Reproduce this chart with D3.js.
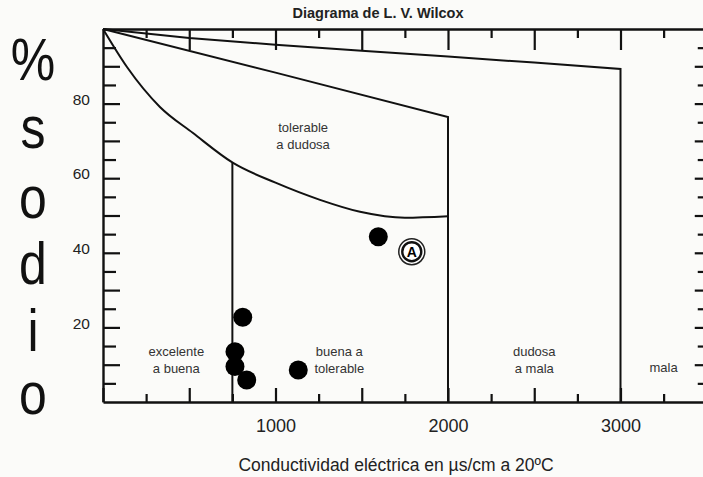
<!DOCTYPE html>
<html>
<head>
<meta charset="utf-8">
<script src="https://cdn.jsdelivr.net/npm/d3@7"></script>
<style>
  html, body { margin: 0; padding: 0; background: #fbfbf9; }
  svg { display: block; }
  text { font-family: "Liberation Sans", Arial, sans-serif; }
</style>
</head>
<body>
<svg id="chart" width="703" height="477"></svg>
<script>
// ---------------- data ----------------
const title = "Diagrama de L. V. Wilcox";
const xTitle = "Conductividad eléctrica en µs/cm a 20ºC";
const yTitleLetters = ["%", "s", "o", "d", "i", "o"];

const xTickLabels = [1000, 2000, 3000];
const yTickLabels = [20, 40, 60, 80];

// boundary 1: "dudosa a mala" / "mala"
const b1Cond = [0, 500, 1000, 1500, 2000, 2500, 3000, 3000];
const b1Na   = [100, 97.6, 95.8, 94.2, 92.6, 91, 89.3, 0];
// boundary 2: "buena a tolerable" / "dudosa a mala"
const b2Cond = [0, 1000, 2000, 2000];
const b2Na   = [100, 88.3, 76.4, 0];
// boundary 3: lower curve ("tolerable a dudosa")
const b3Cond = [0, 139, 330, 522, 754, 1000, 1258, 1490, 1750, 2000];
const b3Na   = [100, 89.8, 79.1, 72.1, 64.1, 58.8, 54.2, 51, 49.4, 49.8];
// boundary 4: vertical at 750
const b4Cond = [750, 750];
const b4Na   = [64.1, 0];

// water samples
const sampleCond = [1596, 810, 765, 765, 833, 1132];
const sampleNa   = [44.3, 22.7, 13.5, 9.5, 5.9, 8.6];
// highlighted sample "A"
const markCond = [1790];
const markNa   = [40.3];
const markText = ["A"];

// zone labels (lines) and their anchors in data units
const zoneLabels = [["tolerable", "a dudosa"], ["excelente", "a buena"], ["buena a", "tolerable"], ["dudosa", "a mala"], ["mala"]];
const zoneCond   = [1160, 425, 1370, 2500, 3250];
const zoneNa     = [72.5, 12.4, 12.4, 12.4, 8];

// ---------------- drawing ----------------
const svg = d3.select("#chart");
const x = d3.scaleLinear().domain([0, 3500]).range([103, 706.75]);
const y = d3.scaleLinear().domain([0, 100]).range([402, 29]);
const ink = "#111";

// axes
const minorX = d3.range(0, 3501, 250);
const minorY = d3.range(5, 100, 5);

const gBottom = svg.append("g").attr("transform", `translate(0,${y(0)})`)
  .call(d3.axisBottom(x).tickValues(minorX).tickSizeOuter(0)
    .tickFormat(d => xTickLabels.includes(d) ? d : ""));
gBottom.selectAll(".tick line").attr("y2", d => d % 500 === 0 ? -14 : -8);
gBottom.selectAll(".tick text").attr("y", 17).attr("dy", "0.71em").attr("font-size", 18);

const gLeft = svg.append("g").attr("transform", `translate(${x(0)},0)`)
  .call(d3.axisLeft(y).tickValues(minorY).tickSizeOuter(0)
    .tickFormat(d => yTickLabels.includes(d) ? d : ""));
gLeft.selectAll(".tick line").attr("x2", d => d % 10 === 0 ? 17 : 13);
gLeft.selectAll(".tick text").attr("x", -13).attr("dy", "0.05em").attr("font-size", 15.5);

const gTop = svg.append("g").attr("transform", `translate(0,${y(100)})`)
  .call(d3.axisTop(x).tickValues(minorX.filter(d => d > 0)).tickSizeOuter(0).tickFormat(""));
gTop.selectAll(".tick line").attr("y2", d => d % 500 === 0 ? 21 : 9);

const gRight = svg.append("g").attr("transform", `translate(${x(3500)},0)`)
  .call(d3.axisRight(y).tickValues(minorY).tickSizeOuter(0).tickFormat(""));
gRight.selectAll(".tick line").attr("x2", d => d % 10 === 0 ? -12 : -9);

[gBottom, gLeft, gTop, gRight].forEach(g => {
  g.select(".domain").attr("stroke", ink).attr("stroke-width", 2.4);
  g.selectAll(".tick line").attr("stroke", ink).attr("stroke-width", 2.2);
  g.selectAll(".tick text").attr("fill", "#222")
    .attr("font-family", "Liberation Sans, Arial, sans-serif");
});

// boundaries
const lineGen = d3.line().x(d => x(d[0])).y(d => y(d[1]));
const curveGen = d3.line().x(d => x(d[0])).y(d => y(d[1])).curve(d3.curveMonotoneX);
const zip = (a, b) => a.map((v, i) => [v, b[i]]);

const gB = svg.append("g").attr("fill", "none").attr("stroke", ink).attr("stroke-width", 2);
gB.append("path").attr("d", lineGen(zip(b1Cond, b1Na)));
gB.append("path").attr("d", lineGen(zip(b2Cond, b2Na)));
gB.append("path").attr("d", curveGen(zip(b3Cond, b3Na)));
gB.append("path").attr("d", lineGen(zip(b4Cond, b4Na)));

// zone labels
zoneLabels.forEach((lines, i) => {
  const t = svg.append("text")
    .attr("x", x(zoneCond[i])).attr("y", y(zoneNa[i]))
    .attr("text-anchor", "middle").attr("font-size", 13).attr("fill", "#333");
  lines.forEach((ln, j) => {
    t.append("tspan").attr("x", x(zoneCond[i])).attr("dy", j === 0 ? 0 : 17).text(ln);
  });
});

// samples
svg.append("g").selectAll("circle").data(zip(sampleCond, sampleNa)).join("circle")
  .attr("cx", d => x(d[0])).attr("cy", d => y(d[1])).attr("r", 9.5).attr("fill", "#000");

const gm = svg.append("g").selectAll("g").data(zip(markCond, markNa)).join("g")
  .attr("transform", d => `translate(${x(d[0])},${y(d[1])})`);
gm.append("circle").attr("r", 13).attr("fill", "#fff").attr("stroke", "#222").attr("stroke-width", 1.5);
gm.append("circle").attr("r", 9.5).attr("fill", "#fff").attr("stroke", "#111").attr("stroke-width", 2.4);
gm.append("text").attr("text-anchor", "middle").attr("dy", "0.36em")
  .attr("font-size", 14).attr("font-weight", "bold").attr("fill", "#000")
  .text((d, i) => markText[i]);

// titles
svg.append("text").attr("x", 378).attr("y", 18).attr("text-anchor", "middle")
  .attr("font-size", 14.5).attr("font-weight", "bold").attr("fill", "#222").text(title);
svg.append("text").attr("x", 396).attr("y", 471).attr("text-anchor", "middle")
  .attr("font-size", 17.5).attr("fill", "#222").text(xTitle);

const letterY = [80, 148, 218, 284, 351, 414];
yTitleLetters.forEach((ch, i) => {
  svg.append("text").attr("text-anchor", "middle")
    .attr("transform", `translate(33,${letterY[i]}) scale(1,1.18)`)
    .attr("font-size", 50).attr("fill", "#111").text(ch);
});
</script>
</body>
</html>
